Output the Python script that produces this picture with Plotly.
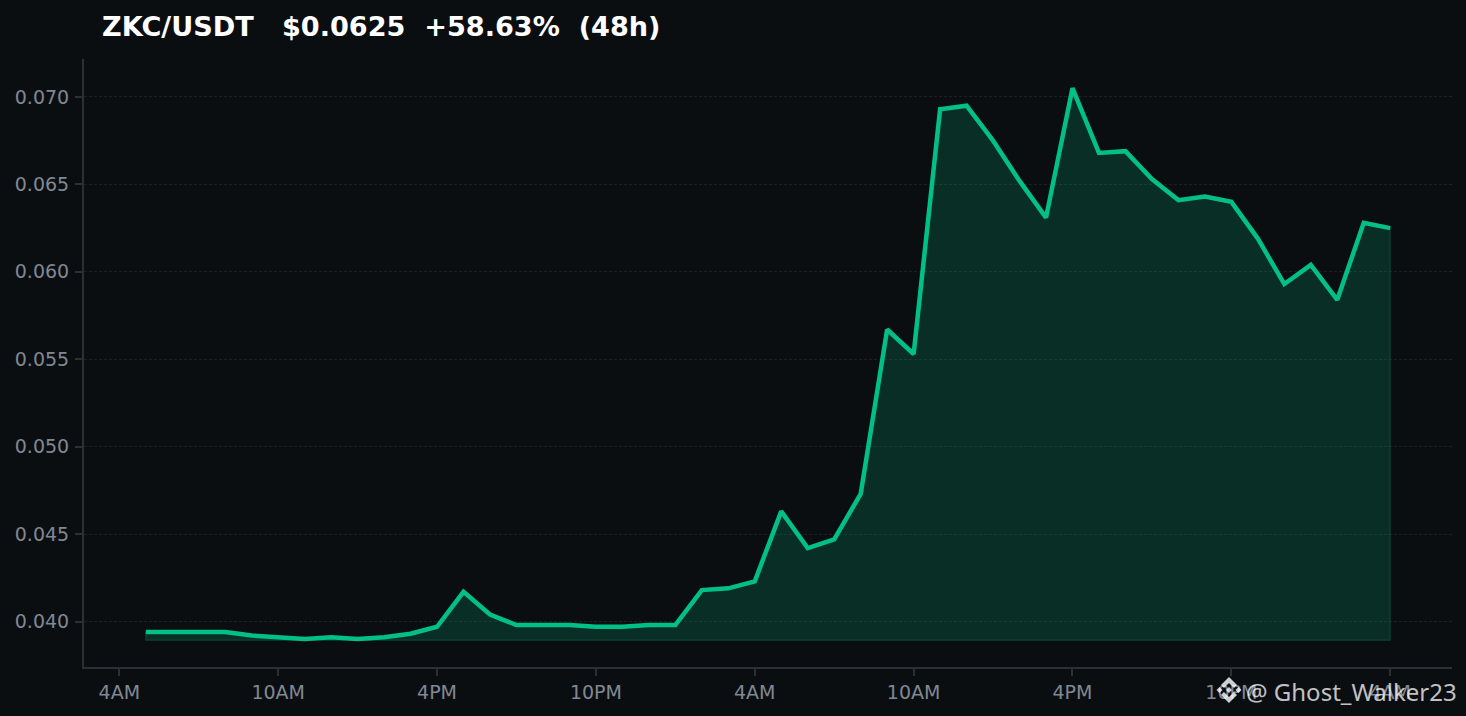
import pandas as pd
import plotly.graph_objects as go

W, H = 1466, 716
LEFT, RIGHT, TOP, BOTTOM = 84, 1452, 59, 667

# hourly closes, 48h
times = pd.date_range("2025-09-15 05:00", periods=48, freq="h")
prices = [
    0.0394, 0.0394, 0.0394, 0.0394, 0.0392, 0.0391, 0.0390, 0.0391,
    0.0390, 0.0391, 0.0393, 0.0397, 0.0417, 0.0404, 0.0398, 0.0398,
    0.0398, 0.0397, 0.0397, 0.0398, 0.0398, 0.0418, 0.0419, 0.0423,
    0.0463, 0.0442, 0.0447, 0.0473, 0.0567, 0.0553, 0.0693, 0.0695,
    0.0675, 0.0652, 0.0631, 0.0705, 0.0668, 0.0669, 0.0653, 0.0641,
    0.0643, 0.0640, 0.0619, 0.0593, 0.0604, 0.0584, 0.0628, 0.0625,
]
fill_base = 0.03893
tick_times = pd.date_range("2025-09-15 04:00", periods=9, freq="6h")
tick_labels = ["4AM", "10AM", "4PM", "10PM", "4AM", "10AM", "4PM", "10PM", "4AM"]
y_ticks = [0.040, 0.045, 0.050, 0.055, 0.060, 0.065, 0.070]

BG = "#0b0e11"
GREEN = "#00c087"
SPINE = "#2b2f36"
MUTED = "#808893"


# page pixels to plot-area paper coordinates
def px(x):
    return (x - LEFT) / (RIGHT - LEFT)


def py(y):
    return (BOTTOM - y) / (BOTTOM - TOP)


fig = go.Figure()

# shaded area down to the base, with its thin outline
fig.add_trace(go.Scatter(
    x=list(times) + list(times[::-1]) + [times[0]],
    y=prices + [fill_base] * len(times) + [prices[0]],
    mode="lines",
    fill="toself",
    fillcolor="rgba(0,192,135,0.18)",
    line=dict(color="rgba(0,192,135,0.18)", width=1.5),
    hoverinfo="skip",
))
fig.add_trace(go.Scatter(
    x=times, y=prices, mode="lines",
    line=dict(color=GREEN, width=4.5),
))


# binance logo: offsets from its centre in pixels
def poly(pts, cx=1229, cy=690):
    return "M" + " L".join(f"{px(cx + x):.5f},{py(cy + y):.5f}" for x, y in pts) + " Z"


logo = " ".join([
    poly([(0, -13), (8, -5), (5, -2), (0, -7), (-5, -2), (-8, -5)]),
    poly([(0, 13), (8, 5), (5, 2), (0, 7), (-5, 2), (-8, 5)]),
    poly([(-9.5, -3), (-6.5, 0), (-9.5, 3), (-12.5, 0)]),
    poly([(9.5, -3), (12.5, 0), (9.5, 3), (6.5, 0)]),
    poly([(0, -3), (3, 0), (0, 3), (-3, 0)]),
])
fig.add_shape(type="path", path=logo, xref="paper", yref="paper",
              fillcolor="rgba(255,255,255,0.8)", line_width=0)

fig.add_annotation(
    text="@ Ghost_Walker23", xref="paper", yref="paper",
    x=px(1459), y=py(691), xanchor="right", yanchor="middle",
    showarrow=False, font=dict(family="Noto Sans", size=24, color="rgba(255,255,255,0.75)"),
)

fig.update_layout(
    width=W, height=H,
    margin=dict(l=LEFT, r=W - RIGHT, t=TOP, b=H - BOTTOM, autoexpand=False),
    paper_bgcolor=BG, plot_bgcolor=BG,
    showlegend=False,
    title=dict(
        text="<b>ZKC/USDT   $0.0625  +58.63%  (48h)</b>",
        x=102 / W, xref="container", xanchor="left",
        y=1 - 27 / H, yref="container", yanchor="middle",
        font=dict(family="DejaVu Sans", size=27.1, color="white"),
    ),
    font=dict(family="DejaVu Sans"),
)
fig.update_xaxes(
    range=[pd.Timestamp("2025-09-15 02:40"), pd.Timestamp("2025-09-17 06:20")],
    tickvals=tick_times, ticktext=tick_labels,
    showgrid=False, zeroline=False,
    showline=True, linecolor=SPINE, linewidth=2,
    ticks="outside", ticklen=7, tickwidth=1.5, tickcolor=SPINE,
    tickfont=dict(size=19, color=MUTED),
)
fig.update_yaxes(
    range=[0.03740, 0.07217],
    tickvals=y_ticks, tickformat=".3f",
    showgrid=True, gridcolor="#1c2024", griddash="3px,2px", gridwidth=1,
    zeroline=False,
    showline=True, linecolor=SPINE, linewidth=2,
    ticks="outside", ticklen=7, tickwidth=1.5, tickcolor=SPINE,
    ticklabelstandoff=2,
    tickfont=dict(size=19, color=MUTED),
)

fig.write_html(
    "out.html",
    config=dict(displayModeBar=False),
    post_script=f"document.body.style.margin='0';document.body.style.background='{BG}';",
)
